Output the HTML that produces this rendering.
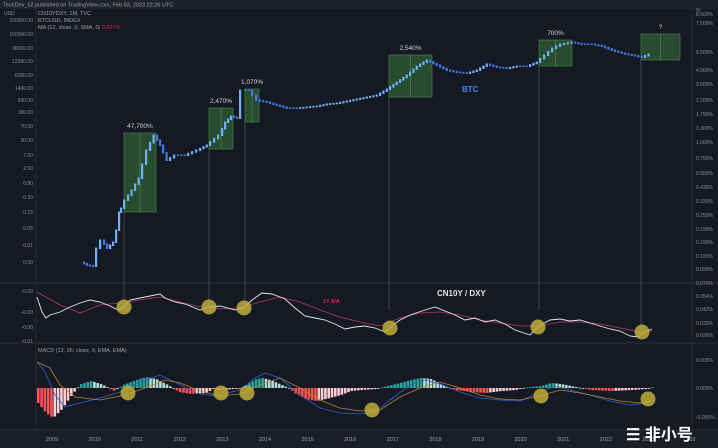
<!DOCTYPE html>
<html><head><meta charset="utf-8"><style>
html,body{margin:0;padding:0;background:#131722;width:718px;height:448px;overflow:hidden}
svg{display:block;font-family:"Liberation Sans",sans-serif}
</style></head><body>
<svg id="s" width="718" height="448" viewBox="0 0 718 448" xmlns="http://www.w3.org/2000/svg">
<rect width="718" height="448" fill="#151924"/>
<rect width="718" height="9" fill="#1e222d"/>
<text x="3" y="6.5" font-size="5.5" fill="#9aa0ad">TechDev_52 published on TradingView.com, Feb 03, 2023 22:26 UTC</text>
<line x1="36" y1="9" x2="36" y2="430" stroke="#2a2e39" stroke-width="0.8"/>
<line x1="692" y1="9" x2="692" y2="430" stroke="#2a2e39" stroke-width="0.8"/>
<line x1="0" y1="283" x2="718" y2="283" stroke="#2a2e39" stroke-width="1"/>
<line x1="0" y1="343" x2="718" y2="343" stroke="#2a2e39" stroke-width="1"/>
<rect x="0" y="430" width="718" height="18" fill="#1a1e29"/>
<line x1="0" y1="430" x2="718" y2="430" stroke="#2a2e39"/>
<g id="g"></g>
<text x="38" y="15" font-size="5.5" fill="#9aa0ad">CN10YDXY, 1M, TVC</text>
<text x="38" y="22" font-size="5.5" fill="#9aa0ad">BTCUSD, INDEX</text>
<text x="38" y="29" font-size="5.5" fill="#9aa0ad">MA (12, close, 0, SMA, 0) <tspan fill="#e91e63">0.627%</tspan></text>
<text x="38" y="352" font-size="5.5" fill="#9aa0ad">MACD (12, 26, close, 9, EMA, EMA)</text>
<text x="462" y="92" font-size="8" font-weight="bold" fill="#3d8bf5">BTC</text>
<text x="437" y="296" font-size="8" font-weight="bold" fill="#e0e3eb">CN10Y / DXY</text>
<text x="323" y="303" font-size="5.5" font-weight="bold" fill="#e91e63">1Y MA</text>
<text x="626" y="440" font-size="16" font-weight="bold" fill="#fff" font-family="'Liberation Sans','Noto Sans CJK SC',sans-serif">☰ 非小号</text>
</svg>
<script>
var g=document.getElementById('g'),h='';
function T(x,y,t,s,c,a){h+='<text x="'+x+'" y="'+y+'" font-size="'+(s||5.5)+'" fill="'+(c||'#9aa0ad')+'" text-anchor="'+(a||'start')+'">'+t+'</text>';}
var L=[['USD',13],['320000.00',20],['160000.00',34],['38000.00',48],['12000.00',61],['6000.00',75],['1400.00',88],['500.00',100],['180.00',112],['70.00',126],['30.00',140],['7.00',155],['2.50',168],['0.80',183],['0.30',197],['0.15',212],['0.05',228],['0.01',245],['0.00',262],['-0.00',291],['-0.00',312],['-0.00',327],['-0.01',341]];
L.forEach(function(l){T(l[0]=='USD'?4:33,l[1]+2,l[0],5,'#8a909c',l[0]=='USD'?'start':'end')});
var R=[['%',10],['8.500%',14],['7.500%',23],['5.500%',52],['4.000%',70],['3.000%',84],['2.200%',100],['1.750%',114],['1.300%',128],['1.000%',142],['0.750%',158],['0.550%',173],['0.430%',187],['0.330%',201],['0.250%',215],['0.190%',229],['0.150%',242],['0.115%',256],['0.090%',269],['0.070%',283],['0.054%',296],['0.042%',309],['0.033%',323],['0.026%',335],['0.005%',360],['0.000%',388],['-0.005%',417]];
R.forEach(function(l){T(696,l[1]+2,l[0],5,'#8a909c')});
var Y=['2009','2010','2011','2012','2013','2014','2015','2016','2017','2018','2019','2020','2021','2022','2023','202'];
Y.forEach(function(y,i){T(52+i*42.6,441,y,5.5,'#9aa0ad','middle')});
var B=[[124,133,156,212,'47,700%'],[209,108,233,149,'2,470%'],[245,89,259,122,'1,070%'],[389,55,432,97,'2,540%'],[539,40,572,66,'700%'],[641,34,680,60,'?']];
B.forEach(function(b){h+='<rect x="'+b[0]+'" y="'+b[1]+'" width="'+(b[2]-b[0])+'" height="'+(b[3]-b[1])+'" fill="#2e5e34" fill-opacity="0.75" stroke="#4c8a50" stroke-width="0.6"/>';
h+='<line x1="'+(b[0]+b[2])/2+'" y1="'+b[1]+'" x2="'+(b[0]+b[2])/2+'" y2="'+b[3]+'" stroke="#5e9a60" stroke-width="0.5"/>';
h+='<line x1="'+b[0]+'" y1="'+b[3]+'" x2="'+b[0]+'" y2="'+(b[0]>600?330:310)+'" stroke="#6a6e78" stroke-width="0.5"/>';
T((b[0]+b[2])/2,b[1]-5,b[4],6.5,'#d1d4dc','middle');});
var P=[[84,262],[90,265],[96,266],[100,248],[104,240],[110,248],[116,242],[119,230],[121,212],[124,208],[128,200],[135,190],[142,178],[150,150],[157,135],[163,145],[170,160],[178,155],[188,155],[200,150],[210,145],[222,135],[228,122],[234,116],[240,118],[245,90],[252,90],[260,100],[270,102],[280,105],[290,108],[300,108],[310,107],[320,106],[330,104],[340,103],[350,101],[360,99],[370,97],[380,95],[390,89],[400,82],[410,75],[420,66],[430,60],[440,65],[450,70],[460,72],[470,73],[480,70],[490,64],[500,67],[510,68],[520,66],[530,66],[540,62],[548,55],[556,48],[564,44],[575,42],[585,44],[595,44],[605,46],[615,50],[625,53],[635,55],[645,57],[652,54]];
for(var i=1;i<P.length;i++){var a=P[i-1],b=P[i],up=b[1]<a[1];var n=Math.max(1,Math.round((b[0]-a[0])/3.5));for(var k=0;k<n;k++){var x=a[0]+(b[0]-a[0])*k/n,y0=a[1]+(b[1]-a[1])*k/n,y1=a[1]+(b[1]-a[1])*(k+1)/n;var t=Math.min(y0,y1)-0.5,hh=Math.abs(y1-y0)+1.5;h+='<rect x="'+(x-1)+'" y="'+t+'" width="2.2" height="'+hh+'" fill="'+(up?'#6fb0f7':'#3d7be0')+'"/>';}}
var W=[[37,297],[42,312],[46,318],[50,315],[60,312],[70,307],[80,303],[90,300],[100,302],[110,306],[118,310],[124,307],[130,300],[140,298],[150,296],[160,294],[165,298],[175,302],[185,304],[200,310],[210,307],[220,306],[235,310],[244,308],[252,300],[262,293],[272,294],[285,299],[295,308],[305,316],[315,318],[325,320],[335,324],[345,329],[355,327],[365,326],[375,328],[385,332],[392,326],[400,320],[410,315],[425,310],[435,307],[445,311],[455,315],[465,320],[475,318],[485,322],[495,320],[505,324],[515,330],[530,335],[539,326],[550,320],[560,319],[570,321],[580,320],[590,323],[600,326],[610,329],[620,331],[630,336],[638,337],[645,332],[652,329]];
var M=[[37,292],[60,305],[80,313],[100,305],[120,303],[140,300],[160,297],[180,302],[200,307],[220,309],[240,308],[260,302],[280,297],[300,302],[320,310],[340,317],[360,322],[380,326],[400,318],[420,313],[440,312],[460,315],[480,320],[500,323],[520,326],[540,326],[560,322],[580,322],[600,324],[620,328],[640,332],[652,331]];
function pl(A,c,w){h+='<polyline points="'+A.map(function(p){return p.join(',')}).join(' ')+'" fill="none" stroke="'+c+'" stroke-width="'+w+'"/>';}
pl(M,'#b03a6e',0.8);pl(W,'#e8eaf0',0.9);
var H=[[37,-15],[45,-25],[52,-30],[60,-22],[70,-8],[76,0],[80,4],[90,7],[100,4],[108,0],[112,-3],[118,0],[122,3],[135,8],[145,11],[155,9],[165,4],[172,0],[178,-4],[190,-6],[205,-5],[212,-1],[220,-2],[232,-1],[240,0],[245,3],[255,9],[262,10],[272,7],[283,2],[288,0],[295,-6],[305,-11],[315,-13],[325,-11],[340,-7],[350,-3],[360,-2],[375,-1],[382,1],[395,4],[410,8],[420,10],[430,9],[440,4],[448,0],[455,-2],[470,-4],[485,-5],[500,-3],[515,-2],[522,0],[530,1],[540,2],[550,5],[560,4],[570,2],[580,0],[590,-2],[610,-3],[630,-2],[645,-1],[652,1]];
function hv(x){for(var i=1;i<H.length;i++){if(x<=H[i][0]){var a=H[i-1],b=H[i];return a[1]+(b[1]-a[1])*(x-a[0])/(b[0]-a[0]);}}return 0;}
var prev=0;for(var x=37;x<=652;x+=3.3){var v=hv(x),grow=Math.abs(v)>=Math.abs(prev);var c=v>=0?(grow?'#26a69a':'#b2dfdb'):(grow?'#ff5252':'#ffcdd2');var y=v>=0?388-v:388;h+='<rect x="'+x+'" y="'+y+'" width="2.6" height="'+Math.max(0.8,Math.abs(v))+'" fill="'+c+'"/>';prev=v;}
var MB=[[37,362],[45,372],[55,395],[65,407],[80,403],[100,398],[120,392],[140,382],[160,375],[175,382],[195,393],[215,396],[240,390],[255,378],[265,373],[280,378],[300,395],[320,408],[340,413],[360,414],[375,412],[390,400],[410,385],[425,380],[440,384],[460,392],[480,398],[500,400],[520,401],[540,392],[555,386],[570,390],[590,395],[610,401],[630,405],[648,403]];
var MO=[[37,362],[50,368],[60,385],[75,397],[100,400],[125,395],[145,388],[165,380],[180,383],[200,391],[220,396],[240,394],[260,385],[280,378],[300,388],[320,400],[340,408],[360,411],[380,410],[400,397],[420,388],[440,382],[460,388],[480,395],[500,399],[520,400],[540,396],[560,390],[580,393],[600,397],[620,401],[640,403],[652,401]];
pl(MB,'#2a63c9',0.8);pl(MO,'#b7852f',0.8);
[[124,307],[209,307],[244,308],[390,328],[538,327],[642,332],[128,393],[221,393],[247,393],[372,410],[541,396],[648,399]].forEach(function(c){h+='<circle cx="'+c[0]+'" cy="'+c[1]+'" r="7.5" fill="#bfae3a" fill-opacity="0.85"/>';});
g.innerHTML=h;
</script>
</body></html>
